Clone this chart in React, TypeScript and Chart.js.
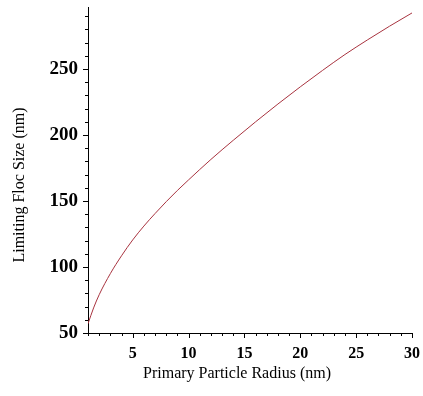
import React, { useEffect, useRef } from "react";
import { Chart, registerables } from "chart.js";

Chart.register(...registerables);

const radius = [1, 1.5, 2, 3, 4, 5, 6, 7, 8, 9, 10, 12, 14, 16, 18, 20, 22, 24, 26, 28, 30];
const flocSize = [57, 69, 79, 95, 108.5, 120.5, 131, 140.5, 149.5, 158, 166, 181.5, 196, 210, 223.5, 236.5, 249, 261, 272, 282.5, 292.5];
const xTickLabels = [5, 10, 15, 20, 25, 30];
const yTickLabels = [50, 100, 150, 200, 250];
const xTitle = "Primary Particle Radius (nm)";
const yTitle = "Limiting Floc Size (nm)";

const extras = {
  id: "extras",
  afterDraw(chart: any) {
    const ctx = chart.ctx;
    const xs = chart.scales.x;
    const ys = chart.scales.y;
    ctx.save();
    ctx.strokeStyle = "#000";
    ctx.lineWidth = 1;
    ctx.beginPath();
    for (let v = 1; v <= 30; v++) {
      const px = Math.round(xs.getPixelForValue(v)) + 0.5;
      const len = xTickLabels.includes(v) ? 5 : 3;
      ctx.moveTo(px, ys.bottom);
      ctx.lineTo(px, ys.bottom + len);
    }
    for (let v = 50; v <= 290; v += 10) {
      const py = Math.round(ys.getPixelForValue(v)) + 0.5;
      const len = yTickLabels.includes(v) ? 5 : 3;
      ctx.moveTo(xs.left, py);
      ctx.lineTo(xs.left - len, py);
    }
    ctx.stroke();
    ctx.fillStyle = "#000";
    ctx.font = "16px 'Liberation Serif'";
    ctx.textAlign = "center";
    ctx.textBaseline = "middle";
    const ca = chart.chartArea;
    ctx.fillText(xTitle, (ca.left + ca.right) / 2 - 13, ca.bottom + 41);
    ctx.translate(20, (ca.top + ca.bottom) / 2 + 15);
    ctx.rotate(-Math.PI / 2);
    ctx.fillText(yTitle, 0, 0);
    ctx.restore();
  },
};

export default function App() {
  const ref = useRef<HTMLCanvasElement>(null);
  useEffect(() => {
    document.body.style.margin = "0";
    const chart = new Chart(ref.current!, {
      type: "line",
      data: {
        datasets: [
          {
            data: radius.map((r, i) => ({ x: r, y: flocSize[i] })),
            borderColor: "#a8333f",
            borderWidth: 1,
            pointRadius: 0,
            cubicInterpolationMode: "monotone",
            fill: false,
          },
        ],
      },
      options: {
        animation: false,
        responsive: false,
        layout: { padding: { top: 7, right: 11, left: 0, bottom: 0 } },
        plugins: { legend: { display: false }, tooltip: { enabled: false } },
        scales: {
          x: {
            type: "linear",
            min: 1,
            max: 30,
            afterBuildTicks: (s: any) => {
              s.ticks = xTickLabels.map((v) => ({ value: v }));
            },
            afterFit: (s: any) => {
              s.height = 63;
              s.paddingLeft = 0;
              s.paddingRight = 0;
            },
            grid: { display: false, drawTicks: false },
            border: { display: true, color: "#000", width: 1 },
            ticks: {
              padding: 11,
              color: "#000",
              maxRotation: 0,
              font: { family: "Liberation Serif", size: 16, weight: "bold" },
            },
          },
          y: {
            type: "linear",
            min: 50,
            max: 297,
            afterBuildTicks: (s: any) => {
              s.ticks = yTickLabels.map((v) => ({ value: v }));
            },
            afterFit: (s: any) => {
              s.width = 88;
              s.paddingTop = 0;
              s.paddingBottom = 0;
            },
            grid: { display: false, drawTicks: false },
            border: { display: true, color: "#000", width: 1 },
            ticks: {
              padding: 10,
              color: "#000",
              font: { family: "Liberation Serif", size: 19, weight: "bold" },
            },
          },
        },
      },
      plugins: [extras],
    });
    return () => chart.destroy();
  }, []);
  return (
    <div style={{ width: 423, height: 396, background: "#fff" }}>
      <canvas ref={ref} width={423} height={396} />
    </div>
  );
}
